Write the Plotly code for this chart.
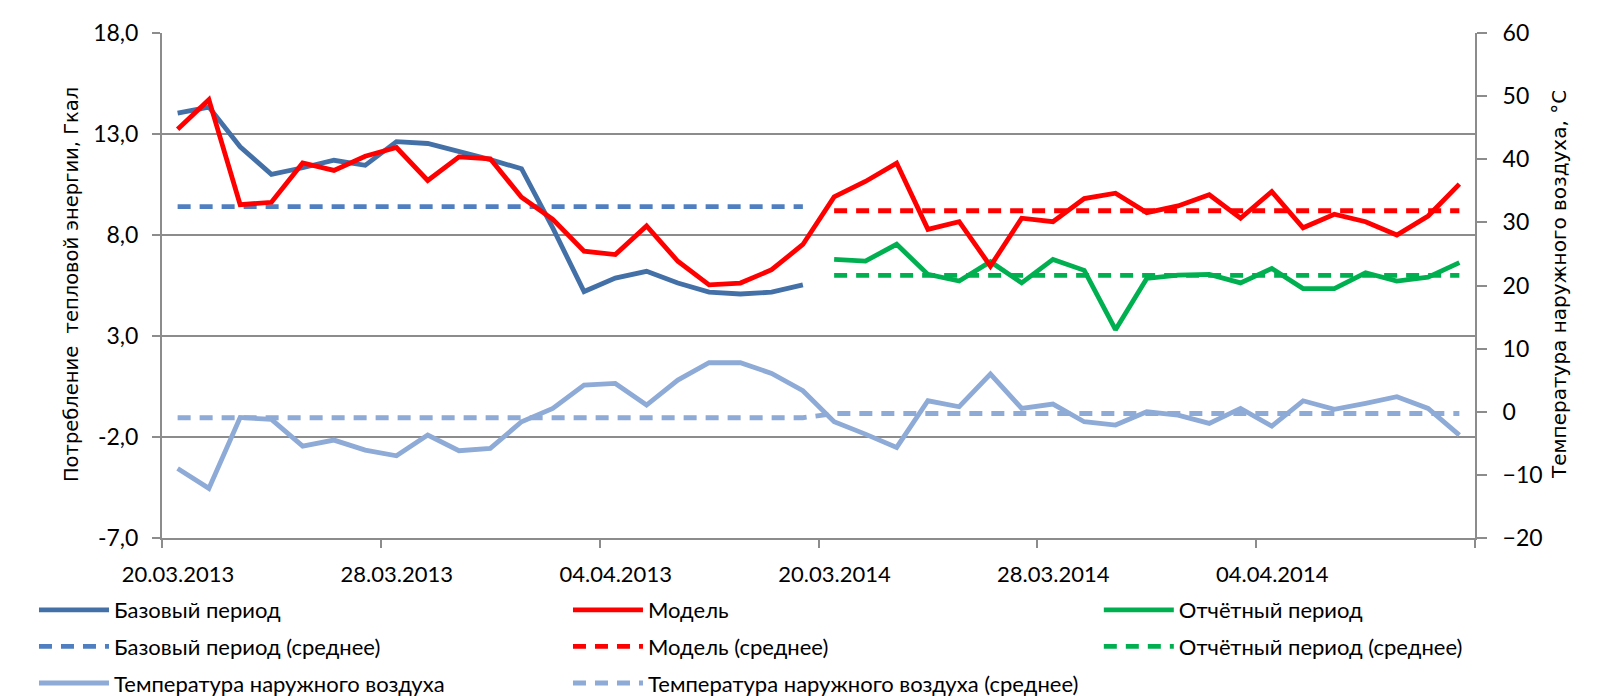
import plotly.graph_objects as go

# ---------------- data ----------------
tick_labels = ["20.03.2013", "28.03.2013", "04.04.2013", "20.03.2014", "28.03.2014", "04.04.2014", ""]
left_ticks = [-7, -2, 3, 8, 13, 18]
left_tick_text = ["-7,0", "-2,0", "3,0", "8,0", "13,0", "18,0"]

base_period = [14.03, 14.33, 12.37, 11.0, 11.33, 11.7, 11.45, 12.62, 12.53, 12.15, 11.73,
               11.28, 8.35, 5.2, 5.87, 6.2, 5.62, 5.17, 5.08, 5.17, 5.53]
model = [13.23, 14.7, 9.5, 9.62, 11.57, 11.2, 11.9, 12.33, 10.7, 11.87, 11.77,
         9.87, 8.78, 7.2, 7.03, 8.45, 6.7, 5.53, 5.62, 6.28, 7.53,
         9.89, 10.65, 11.56, 8.28, 8.66, 6.46, 8.83, 8.66, 9.8, 10.07,
         9.11, 9.44, 9.99, 8.83, 10.15, 8.36, 9.03, 8.66, 8.0, 8.94, 10.52]
report_period = [6.79, 6.71, 7.54, 6.05, 5.72, 6.68, 5.63, 6.79, 6.25, 3.31, 5.85,
                 6.01, 6.05, 5.63, 6.34, 5.35, 5.35, 6.13, 5.72, 5.91, 6.63]
temperature = [-8.98, -12.14, -0.9, -1.21, -5.44, -4.49, -6.07, -6.97, -3.7, -6.18, -5.81,
               -1.58, 0.53, 4.22, 4.49, 1.06, 5.02, 7.76, 7.76, 6.07, 3.33,
               -1.58, -3.54, -5.65, 1.74, 0.79, 5.97, 0.53, 1.21, -1.58, -2.11,
               0.0, -0.53, -1.85, 0.53, -2.27, 1.74, 0.37, 1.32, 2.38, 0.53, -3.7]
base_mean = 9.4
model_mean = 9.2
report_mean = 6.0
temp_mean_2013 = -0.95
temp_mean_2014 = -0.28

left_title = "Потребление  тепловой энергии, Гкал"
right_title = "Температура наружного воздуха, °С"

n_2013 = len(base_period)
n_2014 = len(report_period)
x_2013 = list(range(n_2013))
x_2014 = list(range(n_2013, n_2013 + n_2014))
x_all = x_2013 + x_2014

base_mean_vals = [base_mean] * n_2013
model_mean_vals = [model_mean] * n_2014
report_mean_vals = [report_mean] * n_2014
temp_mean_vals = [temp_mean_2013] * n_2013 + [temp_mean_2014] * n_2014

# ---------------- style ----------------
C_BASE = "#4470A8"
C_BASE_M = "#4F7FC0"
C_RED = "#FF0000"
C_GREEN = "#00B050"
C_TEMP = "#8EAAD6"
DASH = "13px,9px"
LW = 4.8
FONT = "Lato, 'Liberation Sans', sans-serif"
TFONT = "'DejaVu Sans', Verdana, sans-serif"

fig = go.Figure()

def add(x, y, name, color, dash, legend, rank, yaxis="y"):
    fig.add_trace(go.Scatter(
        x=x, y=y, name=name, mode="lines", yaxis=yaxis,
        line=dict(color=color, width=LW, dash=dash),
        legend=legend, legendrank=rank, legendgroup=name,
        hoverinfo="skip"))

# dashed means first (drawn below)
add(x_2013, base_mean_vals, "Базовый период (среднее)", C_BASE_M, DASH, "legend", 2)
add(x_2014, model_mean_vals, "Модель (среднее)", C_RED, DASH, "legend2", 2)
add(x_2014, report_mean_vals, "Отчётный период (среднее)", C_GREEN, DASH, "legend3", 2)
add(x_all, temp_mean_vals, "Температура наружного воздуха (среднее)", C_TEMP, DASH, "legend2", 3, "y2")
add(x_2013, base_period, "Базовый период", C_BASE, None, "legend", 1)
add(x_2014, report_period, "Отчётный период", C_GREEN, None, "legend3", 1)
add(x_all, model, "Модель", C_RED, None, "legend2", 1)
add(x_all, temperature, "Температура наружного воздуха", C_TEMP, None, "legend", 3, "y2")

n_all = len(x_all)
tickpos = [i - 0.5 for i in range(0, n_all + 1, 7)]

GRID = "#8C8C8C"
leg_common = dict(orientation="v", xref="paper", yref="paper",
                  yanchor="top", xanchor="left", tracegroupgap=5,
                  itemwidth=70, bgcolor="rgba(0,0,0,0)",
                  font=dict(family=FONT, size=22, color="#000000"))

fig.update_layout(
    width=1608, height=688,
    margin=dict(l=154, r=141, t=25, b=158, pad=0, autoexpand=False),
    paper_bgcolor="white", plot_bgcolor="white",
    showlegend=True,
    font=dict(family=FONT, size=22, color="#000000"),
    xaxis=dict(range=[-0.5, n_all - 0.5], tickmode="array", tickvals=tickpos,
               ticktext=tick_labels, showgrid=False, zeroline=False,
               showline=True, linecolor=GRID, linewidth=2,
               ticks="outside", ticklen=8, tickwidth=2, tickcolor=GRID,
               ticklabelstandoff=8, ticklabelshift=16,
               tickfont=dict(family=FONT, size=22, color="#000000")),
    yaxis=dict(range=[-7, 18], tickmode="array", tickvals=left_ticks,
               ticktext=left_tick_text, showgrid=True, gridcolor=GRID, gridwidth=2,
               zeroline=False, showline=True, linecolor=GRID, linewidth=2,
               ticks="outside", ticklen=8, tickwidth=2, tickcolor=GRID,
               ticklabelstandoff=9,
               tickfont=dict(family=FONT, size=23, color="#000000")),
    yaxis2=dict(range=[-20, 60], dtick=10, tick0=0, overlaying="y", side="right",
                showgrid=False, zeroline=False, showline=True, linecolor=GRID, linewidth=2,
                ticks="outside", ticklen=10, tickwidth=2, tickcolor=GRID,
                ticklabelstandoff=11,
                tickfont=dict(family=FONT, size=23, color="#000000")),
    legend=dict(x=-0.0975, y=-0.101, **leg_common),
    legend2=dict(x=0.3092, y=-0.101, **leg_common),
    legend3=dict(x=0.7135, y=-0.101, **leg_common),
    annotations=[
        dict(text=left_title, textangle=-90, xref="paper", yref="paper",
             x=-0.0685, y=0.501, xanchor="center", yanchor="middle", showarrow=False,
             font=dict(family=TFONT, size=19.5, color="#000000")),
        dict(text=right_title, textangle=-90, xref="paper", yref="paper",
             x=1.064, y=0.501, xanchor="center", yanchor="middle", showarrow=False,
             font=dict(family=TFONT, size=20, color="#000000")),
    ],
)

fig.write_html("out.html")
